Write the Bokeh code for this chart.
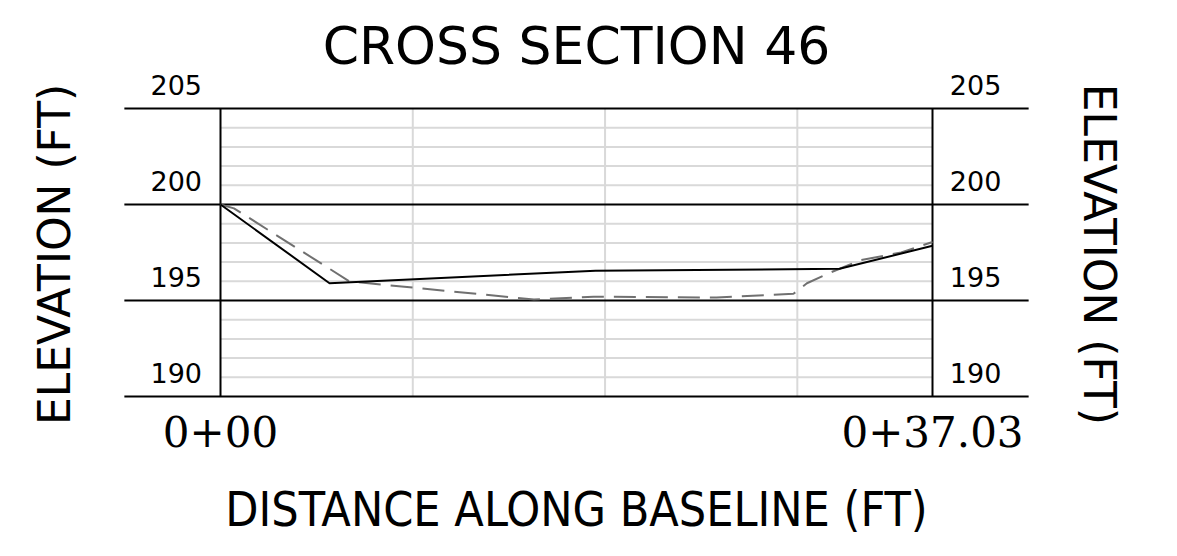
from bokeh.plotting import figure
from bokeh.models import Range1d
from bokeh.core.properties import value
from bokeh.embed import file_html
from bokeh.resources import INLINE

# ---- data ----
station_end = 37.03
elev_ticks = [190, 195, 200, 205]
elev_labels = ["190", "195", "200", "205"]
minor_elev = [191, 192, 193, 194, 196, 197, 198, 199, 201, 202, 203, 204]
dist_grid = [10, 20, 30]

design_x = [0.0, 5.67, 19.5, 32.2, 37.03]
design_y = [200.0, 195.9, 196.55, 196.65, 197.85]

ground_x = [0.0, 0.7, 6.7, 16.3, 19.4, 25.8, 29.8, 30.5, 31.7, 33.3, 35.4, 37.03]
ground_y = [200.0, 199.8, 196.0, 195.05, 195.2, 195.15, 195.35, 195.9, 196.45, 197.1, 197.5, 198.05]

station_labels = ["0+00", "0+37.03"]
station_pos = [0.0, 37.03]

title_text = "CROSS SECTION 46"
xlabel_text = "DISTANCE ALONG BASELINE (FT)"
ylabel_text = "ELEVATION (FT)"

# ---- figure: frame covers the whole canvas ----
W, H = 1161, 540
sx = 712 / station_end   # px per ft horizontally
sy = 19.2                # px per ft vertically
x0 = -220 / sx
x1 = (W - 220) / sx
y1 = 205 + 108 / sy
y0 = 190 - (H - 396) / sy

p = figure(width=W, height=H, output_backend="svg", toolbar_location=None,
           x_range=Range1d(x0, x1), y_range=Range1d(y0, y1),
           min_border=0, outline_line_color=None)
p.axis.visible = False
p.grid.visible = False
p.background_fill_color = "white"
p.border_fill_color = "white"

ymin, ymax = elev_ticks[0], elev_ticks[-1]

# minor grid
p.segment(x0=[0.0] * len(minor_elev), x1=[station_end] * len(minor_elev),
          y0=minor_elev, y1=minor_elev, line_color="#d9d9d9", line_width=2)
p.segment(x0=dist_grid, x1=dist_grid, y0=[ymin] * len(dist_grid), y1=[ymax] * len(dist_grid),
          line_color="#d9d9d9", line_width=2)

# major lines
ext = 5.0
p.segment(x0=[-ext] * len(elev_ticks), x1=[station_end + ext] * len(elev_ticks),
          y0=elev_ticks, y1=elev_ticks, line_color="black", line_width=2)
p.segment(x0=[0.0, station_end], x1=[0.0, station_end], y0=[ymin, ymin], y1=[ymax, ymax],
          line_color="black", line_width=2)

# data
p.line(ground_x, ground_y, line_color="#707070", line_width=2, line_dash="22 10")
p.line(design_x, design_y, line_color="black", line_width=2)

cad = value("DejaVu Sans")

# tick labels
lab_y = [e + 1.22 for e in elev_ticks]
p.text(x=[-2.3] * 4, y=lab_y, text=elev_labels, text_font=cad, text_font_size="27px",
       text_align="center", text_baseline="alphabetic", text_color="black")
p.text(x=[station_end + 2.24] * 4, y=lab_y, text=elev_labels, text_font=cad, text_font_size="27px",
       text_align="center", text_baseline="alphabetic", text_color="black")

# station labels
p.text(x=station_pos, y=[188.18] * 2, text=station_labels, text_font=value("DejaVu Serif"),
       text_font_size="42px", text_align="center", text_baseline="alphabetic", text_color="black")

# titles
p.text(x=[station_end / 2], y=[208.25], text=[title_text], text_font=cad, text_font_size="52px",
       text_align="center", text_baseline="alphabetic", text_color="black")
p.text(x=[station_end / 2], y=[184.15], text=[xlabel_text], text_font=value("DejaVu Sans Condensed"),
       text_font_size="48px", text_align="center", text_baseline="alphabetic", text_color="black")
p.text(x=[-8.63], y=[197.4], text=[ylabel_text], text_font=cad, text_font_size="44px",
       text_align="center", text_baseline="alphabetic", angle=1.5707963, text_color="black")
p.text(x=[45.73], y=[197.4], text=[ylabel_text], text_font=cad, text_font_size="44px",
       text_align="center", text_baseline="alphabetic", angle=-1.5707963, text_color="black")

open("out.html", "w").write(file_html(p, INLINE))
